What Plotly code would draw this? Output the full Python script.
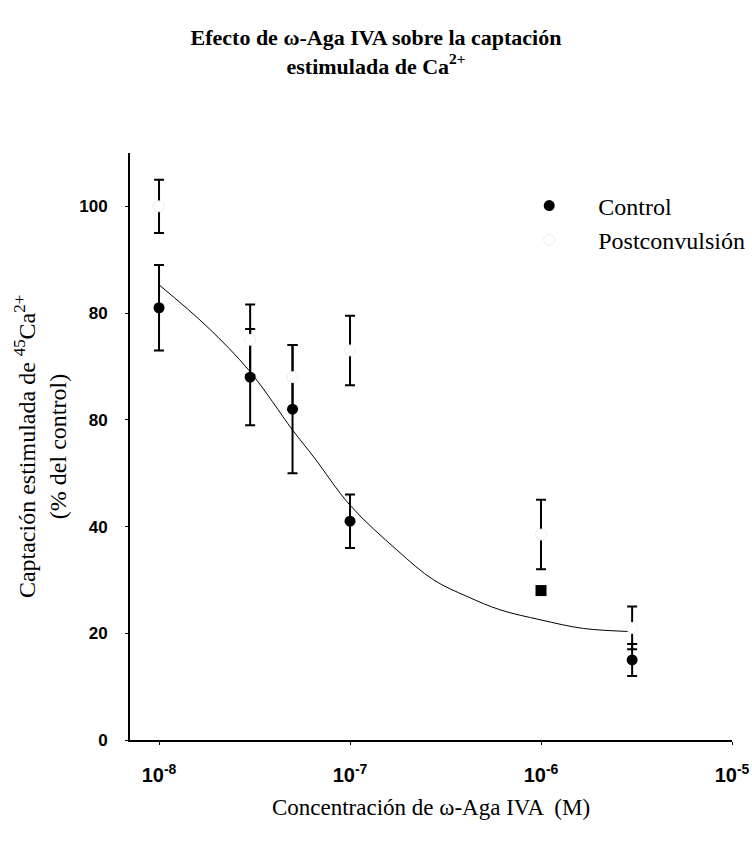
import plotly.graph_objects as go

# Concentrations (M)
conc = [1e-8, 3e-8, 5e-8, 1e-7, 1e-6, 3e-6]

# Control (filled markers)
control_y = [81, 68, 62, 41, 28, 15]
control_err = [8, 9, 12, 5, 0, 3]
control_symbols = ["circle", "circle", "circle", "circle", "square", "circle"]

# Postconvulsion (open markers)
post_y = [100, 75, 68, 73, 38.5, 21]
post_err = [5, 6.6, 6, 6.5, 6.5, 4]

# Fitted curve, points
fit_x = [1e-8, 1.78e-8, 3e-8, 5e-8, 6.5e-8, 1e-7, 1.76e-7, 2.74e-7,
         4.1e-7, 6.1e-7, 1e-6, 1.67e-6, 3.1e-6]
fit_y = [85.3, 77.5, 69, 58.1, 52.9, 44, 35.6, 30, 26.9, 24.4, 22.5, 20.9, 20.3]

x_tickvals = [1e-8, 1e-7, 1e-6, 1e-5]
x_ticktext = ["10<sup>-8</sup>", "10<sup>-7</sup>", "10<sup>-6</sup>", "10<sup>-5</sup>"]
y_tickvals = [0, 20, 40, 60, 80, 100]
y_ticktext = ["0", "20", "40", "80", "80", "100"]

serif = "Liberation Serif, Times New Roman, serif"
sans = "Liberation Sans, Arial, sans-serif"

fig = go.Figure()

fig.add_trace(go.Scatter(
    x=fit_x, y=fit_y, mode="lines", line=dict(color="black", width=1, shape="spline"),
    showlegend=False, hoverinfo="skip"))

fig.add_trace(go.Scatter(
    x=conc, y=control_y, mode="markers", name="Control",
    marker=dict(symbol=control_symbols, size=11, color="black"),
    error_y=dict(type="data", array=control_err, color="black", thickness=2, width=5)))

fig.add_trace(go.Scatter(
    x=conc, y=post_y, mode="markers", name="Postconvulsión",
    marker=dict(symbol="circle", size=11, color="white", line=dict(color="#ececec", width=1)),
    error_y=dict(type="data", array=post_err, color="black", thickness=2, width=5)))

fig.update_layout(
    width=752, height=842,
    margin=dict(l=130, r=20, t=153, b=102, autoexpand=False),
    paper_bgcolor="white", plot_bgcolor="white",
    title=dict(
        text="<b>Efecto de ω-Aga IVA sobre la captación<br>estimulada de Ca<sup>2+</sup></b>",
        x=0.5, xanchor="center", y=1 - 45 / 842, yanchor="middle",
        font=dict(family=serif, size=22, color="black")),
    legend=dict(x=0.615, y=0.948, xanchor="left", yanchor="top",
                bgcolor="rgba(0,0,0,0)", font=dict(family=serif, size=24, color="black"),
                itemwidth=88, tracegroupgap=0),
)

fig.update_xaxes(
    type="log", range=[-8.152, -5.0],
    tickvals=x_tickvals, ticktext=x_ticktext,
    tickfont=dict(family=sans, size=20, color="black", weight="bold"),
    showgrid=False, zeroline=False,
    showline=True, linecolor="black", linewidth=2,
    ticks="outside", ticklen=3, tickcolor="black", ticklabelstandoff=13,
    title=dict(text="Concentración de ω-Aga IVA  (M)", standoff=14,
               font=dict(family=serif, size=23, color="black")))

fig.update_yaxes(
    range=[0, 110],
    tickvals=y_tickvals, ticktext=y_ticktext,
    tickfont=dict(family=sans, size=17, color="black", weight="bold"),
    showgrid=False, zeroline=False,
    showline=True, linecolor="black", linewidth=2,
    ticks="outside", ticklen=3, tickcolor="black", ticklabelstandoff=14,
    title=dict(text="Captación estimulada de <sup>45</sup>Ca<sup>2+</sup><br>(% del control)",
               standoff=6, font=dict(family=serif, size=24, color="black")))

fig.write_html("out.html", config={"displayModeBar": False},
               post_script="document.body.style.margin='0';")
